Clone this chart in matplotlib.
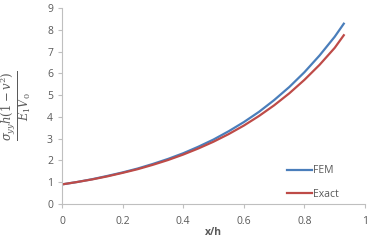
import matplotlib
matplotlib.use("Agg")
import matplotlib.pyplot as plt

# values
x_vals = [0.0, 0.05, 0.1, 0.15, 0.2, 0.25, 0.3, 0.35, 0.4, 0.45, 0.5,
          0.55, 0.6, 0.65, 0.7, 0.75, 0.8, 0.85, 0.9, 0.93]
fem = [0.90, 1.01, 1.14, 1.29, 1.45, 1.63, 1.84, 2.07, 2.33, 2.63, 2.96,
       3.34, 3.76, 4.23, 4.77, 5.37, 6.05, 6.82, 7.68, 8.28]
exact = [0.90, 1.01, 1.13, 1.27, 1.43, 1.60, 1.80, 2.02, 2.27, 2.55, 2.86,
         3.21, 3.60, 4.04, 4.53, 5.08, 5.70, 6.39, 7.17, 7.75]
x_ticks = [0, 0.2, 0.4, 0.6, 0.8, 1]
x_tick_labels = ["0", "0.2", "0.4", "0.6", "0.8", "1"]
y_ticks = list(range(0, 10))

plt.rcParams['font.family'] = ['Open Sans', 'DejaVu Sans']
plt.rcParams['mathtext.fontset'] = 'dejavuserif'

text_col = "#595959"
axis_col = "#bfbfbf"

fig = plt.figure(figsize=(3.67, 2.42), dpi=100)
ax = fig.add_axes([62 / 367, 1 - 204 / 242, (365 - 62) / 367, (204 - 8) / 242])

ax.plot(x_vals, fem, color="#4a7ebb", lw=1.6, label="FEM")
ax.plot(x_vals, exact, color="#be4b48", lw=1.6, label="Exact")

ax.set_xlim(0, 1)
ax.set_ylim(0, 9)
ax.set_xticks(x_ticks)
ax.set_xticklabels(x_tick_labels)
ax.set_yticks(y_ticks)

for side in ["top", "right"]:
    ax.spines[side].set_visible(False)
for side in ["left", "bottom"]:
    ax.spines[side].set_color(axis_col)
    ax.spines[side].set_linewidth(0.8)
ax.tick_params(axis="both", colors=axis_col, labelcolor=text_col,
               labelsize=7.5, length=3, width=0.8, direction="out")
ax.tick_params(axis="x", pad=6)

ax.set_xlabel("x/h", fontsize=7.5, fontweight="bold", color=text_col)
ax.xaxis.set_label_coords(0.5, -0.115)
ax.set_ylabel(r"$\frac{\sigma_{yy}h(1-v^2)}{E_1V_0}$", fontsize=12, color=text_col)
ax.yaxis.set_label_coords(-0.095, 0.5)

ax.legend(loc="upper left", bbox_to_anchor=(278 / 367, 1 - 156 / 242),
          bbox_transform=fig.transFigure, frameon=False, fontsize=7.5,
          handlelength=2.4, handletextpad=0.1, labelspacing=1.2,
          labelcolor=text_col)

fig.savefig("out.png", dpi=100)
